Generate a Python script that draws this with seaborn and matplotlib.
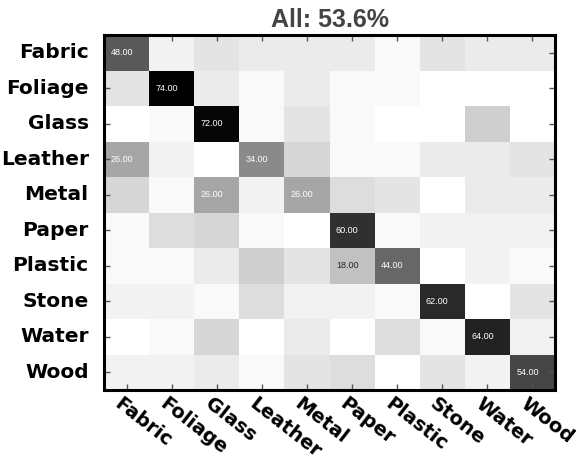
import numpy as np
import pandas as pd
import matplotlib
matplotlib.use('Agg')
import matplotlib.pyplot as plt
import matplotlib.transforms as mtrans
import seaborn as sns

# class names (rows = true, columns = predicted)
classes = ['Fabric', 'Foliage', 'Glass', 'Leather', 'Metal',
           'Paper', 'Plastic', 'Stone', 'Water', 'Wood']

# confusion matrix in percent, one row per class
fabric  = [48, 4, 8, 6, 6, 6, 2, 8, 6, 6]
foliage = [8, 74, 6, 2, 6, 2, 2, 0, 0, 0]
glass   = [0, 2, 72, 2, 8, 2, 0, 0, 14, 0]
leather = [26, 4, 0, 34, 12, 2, 2, 6, 6, 8]
metal   = [12, 2, 26, 4, 26, 10, 8, 0, 6, 6]
paper   = [2, 10, 12, 2, 0, 60, 2, 4, 4, 4]
plastic = [2, 2, 6, 14, 8, 18, 44, 0, 4, 2]
stone   = [4, 4, 2, 10, 4, 4, 2, 62, 0, 8]
water   = [0, 2, 12, 0, 6, 0, 10, 2, 64, 4]
wood    = [4, 4, 6, 2, 8, 10, 0, 8, 4, 54]

title_text = 'All: 53.6%'
label_min = 18  # only cells from this value up get a number

cm = pd.DataFrame([fabric, foliage, glass, leather, metal,
                   paper, plastic, stone, water, wood],
                  index=classes, columns=classes)

# text shown in the cells
labels = cm.map(lambda v: '%.2f' % v if v >= label_min else '')

fig = plt.figure(figsize=(5.76, 4.57), dpi=100)
ax = fig.add_axes([0.1806, 0.1466, 0.7829, 0.7768])

sns.heatmap(cm, ax=ax, cmap='gray_r', vmin=0, vmax=cm.values.max(),
            cbar=False, annot=labels, fmt='',
            annot_kws={'fontsize': 6.5, 'family': 'Liberation Sans'})

# numbers sit a bit left of the cell centre
for t in ax.texts:
    x, y = t.get_position()
    t.set_position((x - 0.11, y))

for s in ax.spines.values():
    s.set_visible(True)
    s.set_linewidth(2.2)
    s.set_color('black')

ax.tick_params(direction='in', top=True, right=True, length=4, width=1,
               color='#555555')
ax.tick_params(axis='y', pad=11)
ax.tick_params(axis='x', pad=3)
ax.set_yticklabels(classes, rotation=0, fontsize=14.5, fontweight='bold',
                   family='DejaVu Sans')
ax.set_xticklabels(classes, rotation=-38, ha='left', va='top',
                   rotation_mode='anchor',
                   fontsize=14, fontweight='bold', family='DejaVu Sans')
shift = mtrans.ScaledTranslation(-4 / 100, 0, fig.dpi_scale_trans)
for lab in ax.get_xticklabels():
    lab.set_transform(lab.get_transform() + shift)
ax.set_xlabel('')
ax.set_ylabel('')

ax.set_title(title_text, fontsize=18, fontweight='bold', color='#444444',
             family='Liberation Sans', pad=6)

fig.savefig('out.png', dpi=100)
